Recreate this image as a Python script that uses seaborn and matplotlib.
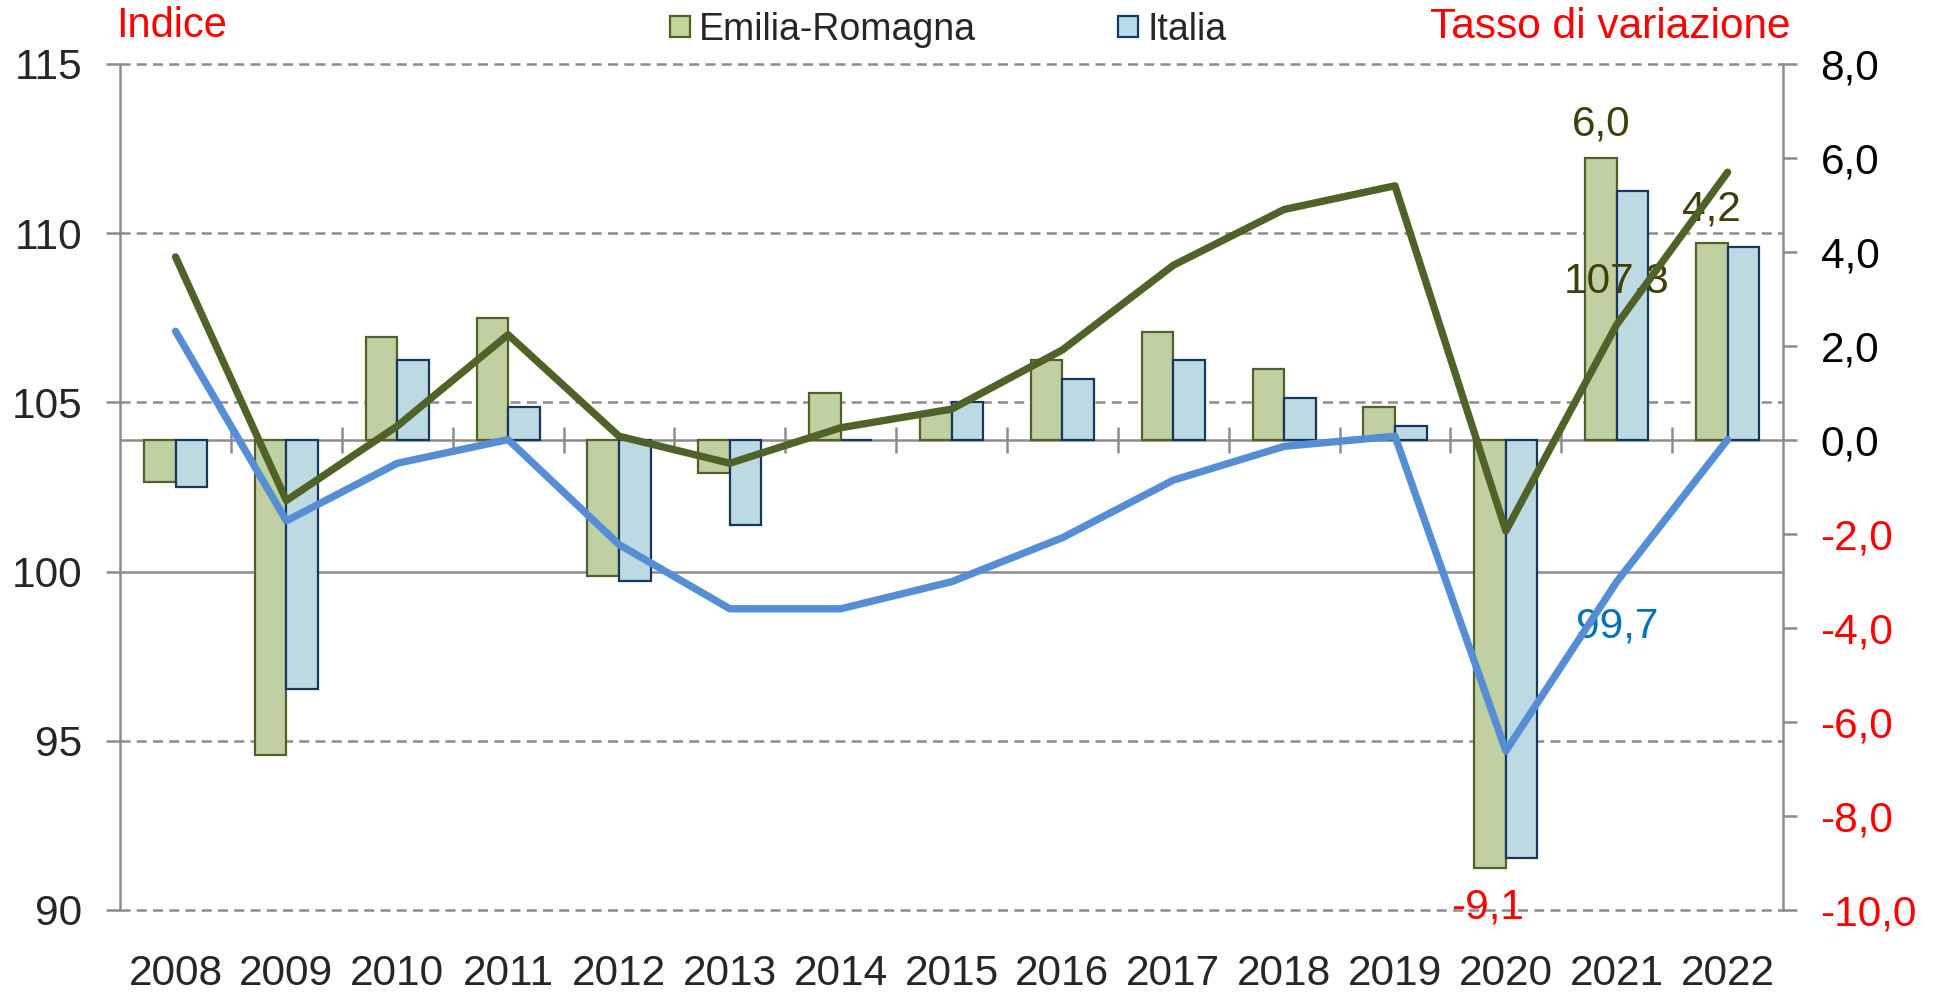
import numpy as np
import pandas as pd
import matplotlib
matplotlib.use("Agg")
import matplotlib.pyplot as plt
from matplotlib.patches import Patch
import seaborn as sns

# dati
anni = ['2008', '2009', '2010', '2011', '2012', '2013', '2014', '2015',
        '2016', '2017', '2018', '2019', '2020', '2021', '2022']
# tassi di variazione (asse destro, barre)
var_er = [-0.9, -6.7, 2.2, 2.6, -2.9, -0.7, 1.0, 0.6, 1.7, 2.3, 1.5, 0.7, -9.1, 6.0, 4.2]
var_it = [-1.0, -5.3, 1.7, 0.7, -3.0, -1.8, 0.0, 0.8, 1.3, 1.7, 0.9, 0.3, -8.9, 5.3, 4.1]
# indici (asse sinistro, linee)
ind_er = [109.3, 102.1, 104.3, 107.0, 104.0, 103.2, 104.25, 104.8, 106.55, 109.05,
          110.7, 111.4, 101.2, 107.3, 111.8]
ind_it = [107.1, 101.5, 103.2, 103.9, 100.8, 98.9, 98.9, 99.7, 101.0, 102.7,
          103.7, 104.0, 94.7, 99.7, 103.9]

serie = ['Emilia-Romagna', 'Italia']
verde_bar, verde_bordo, verde_linea = '#C4D79B', '#4F6228', '#4F6228'
blu_bar, blu_bordo, blu_linea = '#B7DEE8', '#17375E', '#558ED5'
grigio = '#8C8C8C'

df_var = pd.DataFrame({'anno': anni * 2,
                       'valore': var_er + var_it,
                       'serie': [serie[0]] * len(anni) + [serie[1]] * len(anni)})
df_ind = pd.DataFrame({'anno': anni * 2,
                       'valore': ind_er + ind_it,
                       'serie': [serie[0]] * len(anni) + [serie[1]] * len(anni)})

sns.set_style('white')
plt.rcParams['font.family'] = ['Liberation Sans', 'DejaVu Sans']

fig = plt.figure(figsize=(19.37, 9.93), dpi=100)
ax = fig.add_axes([0.062, 0.0836, 0.8585, 0.852])   # asse sinistro + griglia
ax2 = ax.twinx()                                     # barre, asse destro
ax3 = ax.twinx()                                     # linee, scala sinistra

# barre
sns.barplot(data=df_var, x='anno', y='valore', hue='serie', palette=[verde_bar, blu_bar],
            width=0.57, gap=0, ax=ax2, legend=False, linewidth=1.6)
for cont, col in zip(ax2.containers, [verde_bordo, blu_bordo]):
    for p in cont:
        p.set_edgecolor(col)

# linee
sns.lineplot(data=df_ind, x='anno', y='valore', hue='serie', palette=[verde_linea, blu_linea],
             linewidth=5.3, ax=ax3, legend=False, sort=False)

ax.set_ylim(90, 115)
ax3.set_ylim(90, 115)
ax2.set_ylim(-10, 8)
ax.set_xlim(-0.5, len(anni) - 0.5)

# griglia dell'asse sinistro
for v in np.arange(90, 116, 5):
    ax.axhline(v, color=grigio, lw=1.8, ls='-' if v == 100 else (0, (4, 2.5)),
               zorder=0, clip_on=False)
ax2.axhline(0, color=grigio, lw=1.8, zorder=0.5)
# tacche sulla linea dello zero
ax2.vlines(np.arange(1, len(anni)) - 0.5, -0.27, 0.27, color=grigio, lw=1.8, zorder=0.5)

# assi
for a in (ax, ax2):
    for s in ['top', 'bottom', 'left', 'right']:
        a.spines[s].set_visible(False)
ax.spines['left'].set_visible(True)
ax.spines['left'].set_color(grigio)
ax.spines['left'].set_linewidth(1.8)
ax2.spines['right'].set_visible(True)
ax2.spines['right'].set_color(grigio)
ax2.spines['right'].set_linewidth(1.8)
ax3.axis('off')

fs = 30.5
ax.set_yticks(np.arange(90, 116, 5))
ax.set_yticklabels([str(v) for v in range(90, 116, 5)])
ax.tick_params(axis='y', length=10, width=1.8, color=grigio, direction='out',
               labelsize=fs, pad=17)
ax.set_xticks(range(len(anni)))
ax.set_xticklabels(anni)
ax.tick_params(axis='x', length=0, labelsize=fs, pad=32)
ax.set_xlabel('')
ax.set_ylabel('')

tick_dx = np.arange(-10, 9, 2)
ax2.set_yticks(tick_dx)
ax2.set_yticklabels([f'{v:.1f}'.replace('.', ',') for v in tick_dx])
ax2.tick_params(axis='y', length=10, width=1.8, color=grigio, direction='out',
                labelsize=fs, pad=17)
for lab, v in zip(ax2.get_yticklabels(), tick_dx):
    lab.set_color('red' if v < 0 else 'black')
ax2.set_ylabel('')
ax2.set_xlabel('')

# etichette dei dati
i21 = anni.index('2021')
i22 = anni.index('2022')
i20 = anni.index('2020')
dx = 0.57 / 4
oliva = '#3F3F0A'
ax2.annotate('6,0', (i21 - dx, var_er[i21]), xytext=(0, 24), textcoords='offset points',
             ha='center', va='center', fontsize=fs, color=oliva, zorder=1)
ax2.annotate('4,2', (i22 - dx, var_er[i22]), xytext=(0, 24), textcoords='offset points',
             ha='center', va='center', fontsize=fs, color=oliva, zorder=1)
ax2.annotate('-9,1', (i20 - dx, var_er[i20]), xytext=(-2, -29), textcoords='offset points',
             ha='center', va='center', fontsize=fs, color='red', zorder=1)
ax3.annotate('107,3', (i21, ind_er[i21]), xytext=(0, 31), textcoords='offset points',
             ha='center', va='center', fontsize=fs, color=oliva, zorder=1)
ax3.annotate('99,7', (i21, ind_it[i21]), xytext=(0, -32), textcoords='offset points',
             ha='center', va='center', fontsize=fs, color='#0070C0', zorder=1)

# titoli degli assi
fig.text(116 / 1937, 1 - 26 / 993, 'Indice', color='red', fontsize=30, ha='left', va='center')
fig.text(1791 / 1937, 1 - 27 / 993, 'Tasso di variazione', color='red', fontsize=30.5,
         ha='right', va='center')

# legenda
handles = [Patch(facecolor=verde_bar, edgecolor=verde_bordo, lw=1.6),
           Patch(facecolor=blu_bar, edgecolor=blu_bordo, lw=1.6)]
fig.legend(handles, serie, loc='center left', bbox_to_anchor=(670 / 1937, 1 - 30 / 993),
           ncol=2, frameon=False, fontsize=27, handlelength=0.52, handleheight=0.5,
           handletextpad=0.25, columnspacing=3.8, borderpad=0, borderaxespad=0)

fig.savefig('out.png', dpi=100)
